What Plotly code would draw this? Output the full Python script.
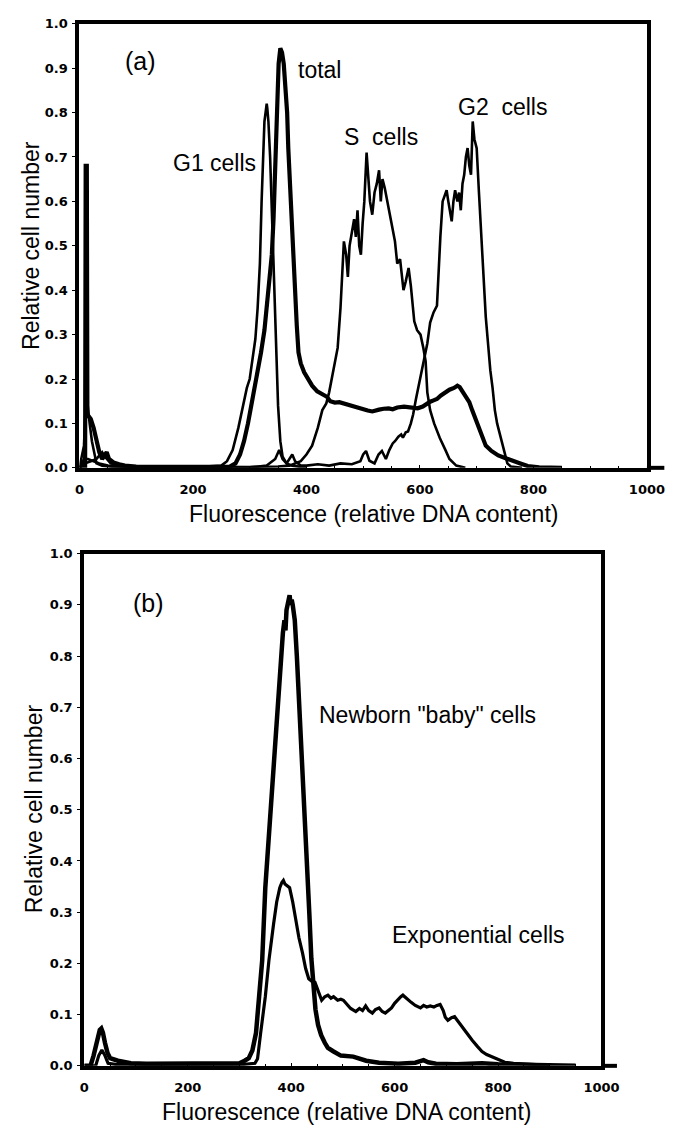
import plotly.graph_objects as go

# ---------------- Panel (a) data ----------------
total_x = [0, 10, 11, 13, 14, 20, 25, 30, 35, 40, 45, 48, 52, 60, 70, 80, 100, 150, 200, 240, 265, 275,
           283, 290, 297, 303, 309, 315, 320, 326, 331, 335, 339, 342, 345, 348, 351, 354,
           357, 360, 363, 366, 368, 371, 374, 377, 380, 383, 386, 390, 396, 402, 410, 419, 428, 436, 442,
           450, 458, 465, 472, 480, 488, 494, 500, 508, 516, 522, 528, 536, 545, 552, 560, 572, 584, 596,
           605, 612, 618, 624, 630, 637, 644, 652, 660, 666, 670, 675, 681, 687, 692, 698, 704, 709, 716,
           726, 738, 750, 763, 777, 790, 810, 850]
total_y = [0.0, 0.0, 0.68, 0.68, 0.12, 0.11, 0.09, 0.06, 0.035, 0.02, 0.03, 0.035, 0.02, 0.012, 0.008,
           0.005, 0.003, 0.002, 0.002, 0.002, 0.003, 0.01, 0.03, 0.06, 0.1, 0.14, 0.18, 0.22, 0.26, 0.31,
           0.37, 0.42, 0.48, 0.56, 0.68, 0.82, 0.91, 0.945, 0.935, 0.91, 0.86, 0.8, 0.72,
           0.63, 0.55, 0.47, 0.4, 0.32, 0.26, 0.235, 0.215, 0.2, 0.185, 0.172, 0.165, 0.16, 0.15, 0.147,
           0.148, 0.145, 0.143, 0.14, 0.137, 0.134, 0.132, 0.129, 0.127, 0.13, 0.131, 0.133, 0.134, 0.132,
           0.136, 0.138, 0.136, 0.134, 0.138, 0.145, 0.149, 0.152, 0.155, 0.163, 0.17, 0.176, 0.18, 0.185,
           0.182, 0.172, 0.16, 0.148, 0.13, 0.11, 0.088, 0.067, 0.05, 0.038, 0.028, 0.022, 0.015, 0.01,
           0.004, 0.001, 0.0]

g1_x = [0, 8, 12, 15, 18, 22, 26, 30, 40, 60, 200, 240, 250, 260, 270, 280, 288, 295, 300, 305, 310,
        314, 318, 321, 324, 326, 328, 330, 331, 333, 336, 339, 342, 346, 350, 354, 358, 365, 375, 400]
g1_y = [0.0, 0.05, 0.17, 0.13, 0.1, 0.06, 0.03, 0.01, 0.005, 0.002, 0.001, 0.003, 0.005, 0.015, 0.04,
        0.09, 0.14, 0.18, 0.2, 0.24, 0.29, 0.36, 0.46, 0.6, 0.72, 0.78, 0.8, 0.82, 0.81, 0.78, 0.7, 0.58,
        0.44, 0.28, 0.14, 0.06, 0.025, 0.01, 0.005, 0.0]

s_x = [0, 10, 20, 30, 40, 45, 55, 70, 100, 200, 300, 350, 370, 390, 400, 410, 420, 428, 435, 440, 448,
       455, 460, 463, 466, 470, 473, 476, 480, 484, 487, 490, 493, 496, 499, 502, 506, 509, 512, 516, 520,
       524, 528, 531, 534, 538, 542, 545, 550, 556, 560, 565, 571, 575, 580, 584, 590, 595, 601, 606, 610,
       613, 618, 625, 635, 645, 652, 664, 680]
s_y = [0.0, 0.01, 0.015, 0.02, 0.035, 0.025, 0.01, 0.005, 0.003, 0.002, 0.002, 0.003, 0.005, 0.015, 0.03,
       0.05, 0.09, 0.13, 0.145, 0.17, 0.22, 0.27, 0.36, 0.45, 0.51, 0.48, 0.43, 0.5, 0.53, 0.56, 0.52,
       0.58, 0.5, 0.48, 0.55, 0.6, 0.71, 0.66, 0.6, 0.57, 0.62, 0.64, 0.67, 0.6, 0.65, 0.63, 0.6, 0.58,
       0.55, 0.51, 0.46, 0.47, 0.4, 0.42, 0.45, 0.41, 0.33, 0.31, 0.3, 0.27, 0.24, 0.17, 0.13, 0.1, 0.067,
       0.04, 0.02, 0.005, 0.0]

g2_x = [0, 8, 15, 25, 35, 50, 80, 300, 330, 345, 352, 358, 365, 375, 380, 390, 400, 420, 440, 460, 480,
        495, 500, 505, 511, 520, 527, 533, 540, 546, 552, 556, 562, 567, 570, 575, 579, 584, 588, 593, 597,
        601, 607, 613, 618, 624, 630, 633, 636, 640, 643, 647, 650, 653, 656, 659, 662, 666, 669, 672, 675,
        678, 681, 684, 687, 690, 693, 696, 700, 704, 708, 712, 716, 720, 724, 728, 732, 736, 740, 746, 750,
        754, 760, 780]
g2_y = [0.0, 0.02, 0.02, 0.015, 0.01, 0.005, 0.002, 0.001, 0.005, 0.02, 0.04, 0.02, 0.01, 0.03, 0.015,
        0.005, 0.005, 0.008, 0.005, 0.01, 0.008, 0.015, 0.03, 0.038, 0.016, 0.01, 0.03, 0.038, 0.02, 0.04,
        0.055, 0.06, 0.07, 0.075, 0.068, 0.08, 0.082, 0.1, 0.12, 0.155, 0.18, 0.21, 0.25, 0.28, 0.327, 0.35,
        0.365, 0.45, 0.52, 0.6, 0.61, 0.625, 0.6, 0.58, 0.555, 0.6, 0.625, 0.6, 0.62, 0.58, 0.64, 0.66, 0.7,
        0.72, 0.68, 0.66, 0.78, 0.74, 0.72, 0.62, 0.52, 0.42, 0.34, 0.28, 0.22, 0.18, 0.13, 0.1, 0.08, 0.05,
        0.03, 0.01, 0.003, 0.0]

# ---------------- Panel (b) data ----------------
newborn_x = [0, 12, 18, 24, 30, 33, 36, 40, 45, 50, 58, 65, 75, 90, 120, 200, 250, 280, 300, 310, 318,
             325, 332, 338, 344, 350, 355, 360, 365, 369, 374, 378, 381, 384, 387, 389, 391, 394, 397, 399,
             401, 403, 407, 411, 415, 419, 423, 427, 431, 435, 439, 443, 447, 452, 458, 465, 471,
             482, 496, 520, 535, 545, 570, 607, 640, 656, 665, 680, 720, 769, 800, 850, 900, 950]
newborn_y = [0.0, 0.0, 0.02, 0.05, 0.07, 0.073, 0.065, 0.045, 0.025, 0.015, 0.012, 0.01, 0.008, 0.005,
             0.004, 0.004, 0.005, 0.004, 0.005, 0.01, 0.015, 0.03, 0.064, 0.135, 0.206, 0.348, 0.42, 0.49,
             0.56, 0.632, 0.71, 0.774, 0.81, 0.845, 0.87, 0.85, 0.89, 0.905, 0.919, 0.9, 0.91, 0.9, 0.87,
             0.8, 0.72, 0.65, 0.58, 0.5, 0.4, 0.3, 0.21, 0.15, 0.11, 0.08, 0.06, 0.045, 0.035,
             0.028, 0.02, 0.018, 0.013, 0.01, 0.006, 0.004, 0.006, 0.011, 0.007, 0.004, 0.003,
             0.005, 0.003, 0.002, 0.001, 0.0]

expo_x = [0, 22, 28, 34, 40, 46, 60, 300, 330, 335, 341, 346, 350, 357, 362, 366, 372, 378, 382, 385, 388,
          392, 397, 403, 409, 415, 422, 428, 434, 440, 446, 452, 459, 465, 471, 477, 482, 490, 496, 501, 508,
          515, 525, 532, 538, 544, 550, 557, 563, 570, 576, 582, 588, 594, 600, 607, 612, 616, 622, 628, 632,
          640, 650, 656, 662, 669, 676, 682, 688, 694, 698, 703, 710, 716, 722, 731, 740, 750, 760, 769, 778,
          787, 800, 813, 830, 856, 900]
expo_y = [0.0, 0.0, 0.02, 0.031, 0.02, 0.005, 0.003, 0.002, 0.005, 0.014, 0.064, 0.1, 0.135, 0.206, 0.25,
          0.277, 0.32, 0.348, 0.358, 0.362, 0.355, 0.352, 0.348, 0.32, 0.284, 0.25, 0.22, 0.19, 0.17, 0.165,
          0.163, 0.145, 0.128, 0.135, 0.138, 0.132, 0.135, 0.128, 0.13, 0.128, 0.12, 0.112, 0.106, 0.112,
          0.108, 0.117, 0.108, 0.103, 0.11, 0.113, 0.106, 0.103, 0.108, 0.113, 0.122, 0.131, 0.135, 0.138,
          0.132, 0.127, 0.124, 0.118, 0.113, 0.118, 0.115, 0.117, 0.115, 0.118, 0.12, 0.108, 0.095, 0.089,
          0.094, 0.096, 0.088, 0.075, 0.062, 0.05, 0.038, 0.028, 0.022, 0.018, 0.012, 0.007, 0.005, 0.004,
          0.001]

x_ticks = [0, 200, 400, 600, 800, 1000]
y_ticks = [0.0, 0.1, 0.2, 0.3, 0.4, 0.5, 0.6, 0.7, 0.8, 0.9, 1.0]
y_ticklabels = ["0.0", "0.1", "0.2", "0.3", "0.4", "0.5", "0.6", "0.7", "0.8", "0.9", "1.0"]

W, H = 692, 1137
TXT = "Liberation Sans, Arial, sans-serif"

fig = go.Figure()

def line(x, y, w, ax):
    fig.add_trace(go.Scatter(x=x, y=y, mode="lines", line=dict(color="black", width=w),
                             xaxis="x" if ax == 1 else "x2", yaxis="y" if ax == 1 else "y2",
                             showlegend=False, hoverinfo="skip"))

line(g1_x, g1_y, 2.6, 1)
line(s_x, s_y, 2.6, 1)
line(g2_x, g2_y, 2.6, 1)
line(total_x, total_y, 4.2, 1)
line(expo_x, expo_y, 3.2, 2)
line(newborn_x, newborn_y, 4.5, 2)

# domains from pixel positions
top_x = [77 / W, 664 / W]
top_y = [1 - 467 / H, 1 - 17 / H]
bot_x = [82 / W, 617 / W]
bot_y = [1 - 1073 / H, 1 - 554 / H]

tickfont = dict(family="DejaVu Sans, sans-serif", size=13, color="black", weight="bold")

def xax(domain, anchor):
    return dict(domain=domain, anchor=anchor, range=[0, 1000], tickvals=x_ticks,
                ticks="inside", ticklen=3, tickwidth=1, tickcolor="black",
                minor=dict(dtick=50, ticks="inside", ticklen=2, tickwidth=1, tickcolor="black"),
                showline=True, linecolor="black", linewidth=4, mirror=True,
                showgrid=False, zeroline=False, tickfont=tickfont, ticklabelstandoff=7)

def yax(domain, anchor):
    return dict(domain=domain, anchor=anchor, range=[0, 1.0], tickvals=y_ticks, ticktext=y_ticklabels,
                ticks="outside", ticklen=3, tickwidth=1, tickcolor="black",
                showline=True, linecolor="black", linewidth=4, mirror=True,
                showgrid=False, zeroline=False, tickfont=tickfont, ticklabelstandoff=2)

fig.update_layout(
    width=W, height=H, margin=dict(l=0, r=0, t=0, b=0),
    paper_bgcolor="white", plot_bgcolor="white",
    xaxis=xax(top_x, "y"), yaxis=yax(top_y, "x"),
    xaxis2=xax(bot_x, "y2"), yaxis2=yax(bot_y, "x2"),
)

# x-axis lines extend a little beyond the right frame
fig.add_shape(type="line", xref="paper", yref="paper", x0=top_x[1], x1=682 / W,
              y0=top_y[0], y1=top_y[0], line=dict(color="black", width=4))
fig.add_shape(type="line", xref="paper", yref="paper", x0=bot_x[1], x1=633 / W,
              y0=bot_y[0], y1=bot_y[0], line=dict(color="black", width=4))

lab = dict(family=TXT, size=23, color="black")
ann = [
    dict(text="(a)", x=107, y=0.916, xref="x", yref="y", xanchor="center", yanchor="middle",
         font=dict(family=TXT, size=25, color="black")),
    dict(text="total", x=381, y=0.896, xref="x", yref="y", xanchor="left", yanchor="middle", font=lab),
    dict(text="S  cells", x=462, y=0.744, xref="x", yref="y", xanchor="left", yanchor="middle", font=lab),
    dict(text="G1 cells", x=162, y=0.687, xref="x", yref="y", xanchor="left", yanchor="middle", font=lab),
    dict(text="G2  cells", x=664, y=0.813, xref="x", yref="y", xanchor="left", yanchor="middle", font=lab),
    dict(text="(b)", x=125, y=0.904, xref="x2", yref="y2", xanchor="center", yanchor="middle",
         font=dict(family=TXT, size=25, color="black")),
    dict(text="Newborn \"baby\" cells", x=449, y=0.686, xref="x2", yref="y2", xanchor="left",
         yanchor="middle", font=lab),
    dict(text="Exponential cells", x=591, y=0.256, xref="x2", yref="y2", xanchor="left",
         yanchor="middle", font=lab),
    dict(text="Relative cell number", x=27 / W, y=1 - 242 / H, xref="paper", yref="paper",
         textangle=-90, xanchor="center", yanchor="middle", font=lab),
    dict(text="Relative cell number", x=30 / W, y=1 - 813 / H, xref="paper", yref="paper",
         textangle=-90, xanchor="center", yanchor="middle", font=lab),
    dict(text="Fluorescence (relative DNA content)", x=381 / W, y=1 - 514 / H, xref="paper",
         yref="paper", xanchor="center", yanchor="middle", font=lab),
    dict(text="Fluorescence (relative DNA content)", x=353 / W, y=1 - 1120 / H, xref="paper",
         yref="paper", xanchor="center", yanchor="middle", font=lab),
]
for a in ann:
    a["showarrow"] = False
    fig.add_annotation(**a)

fig.write_html("out.html", config={"displayModeBar": False},
               post_script="document.body.style.margin='0';document.body.style.overflow='hidden';")
